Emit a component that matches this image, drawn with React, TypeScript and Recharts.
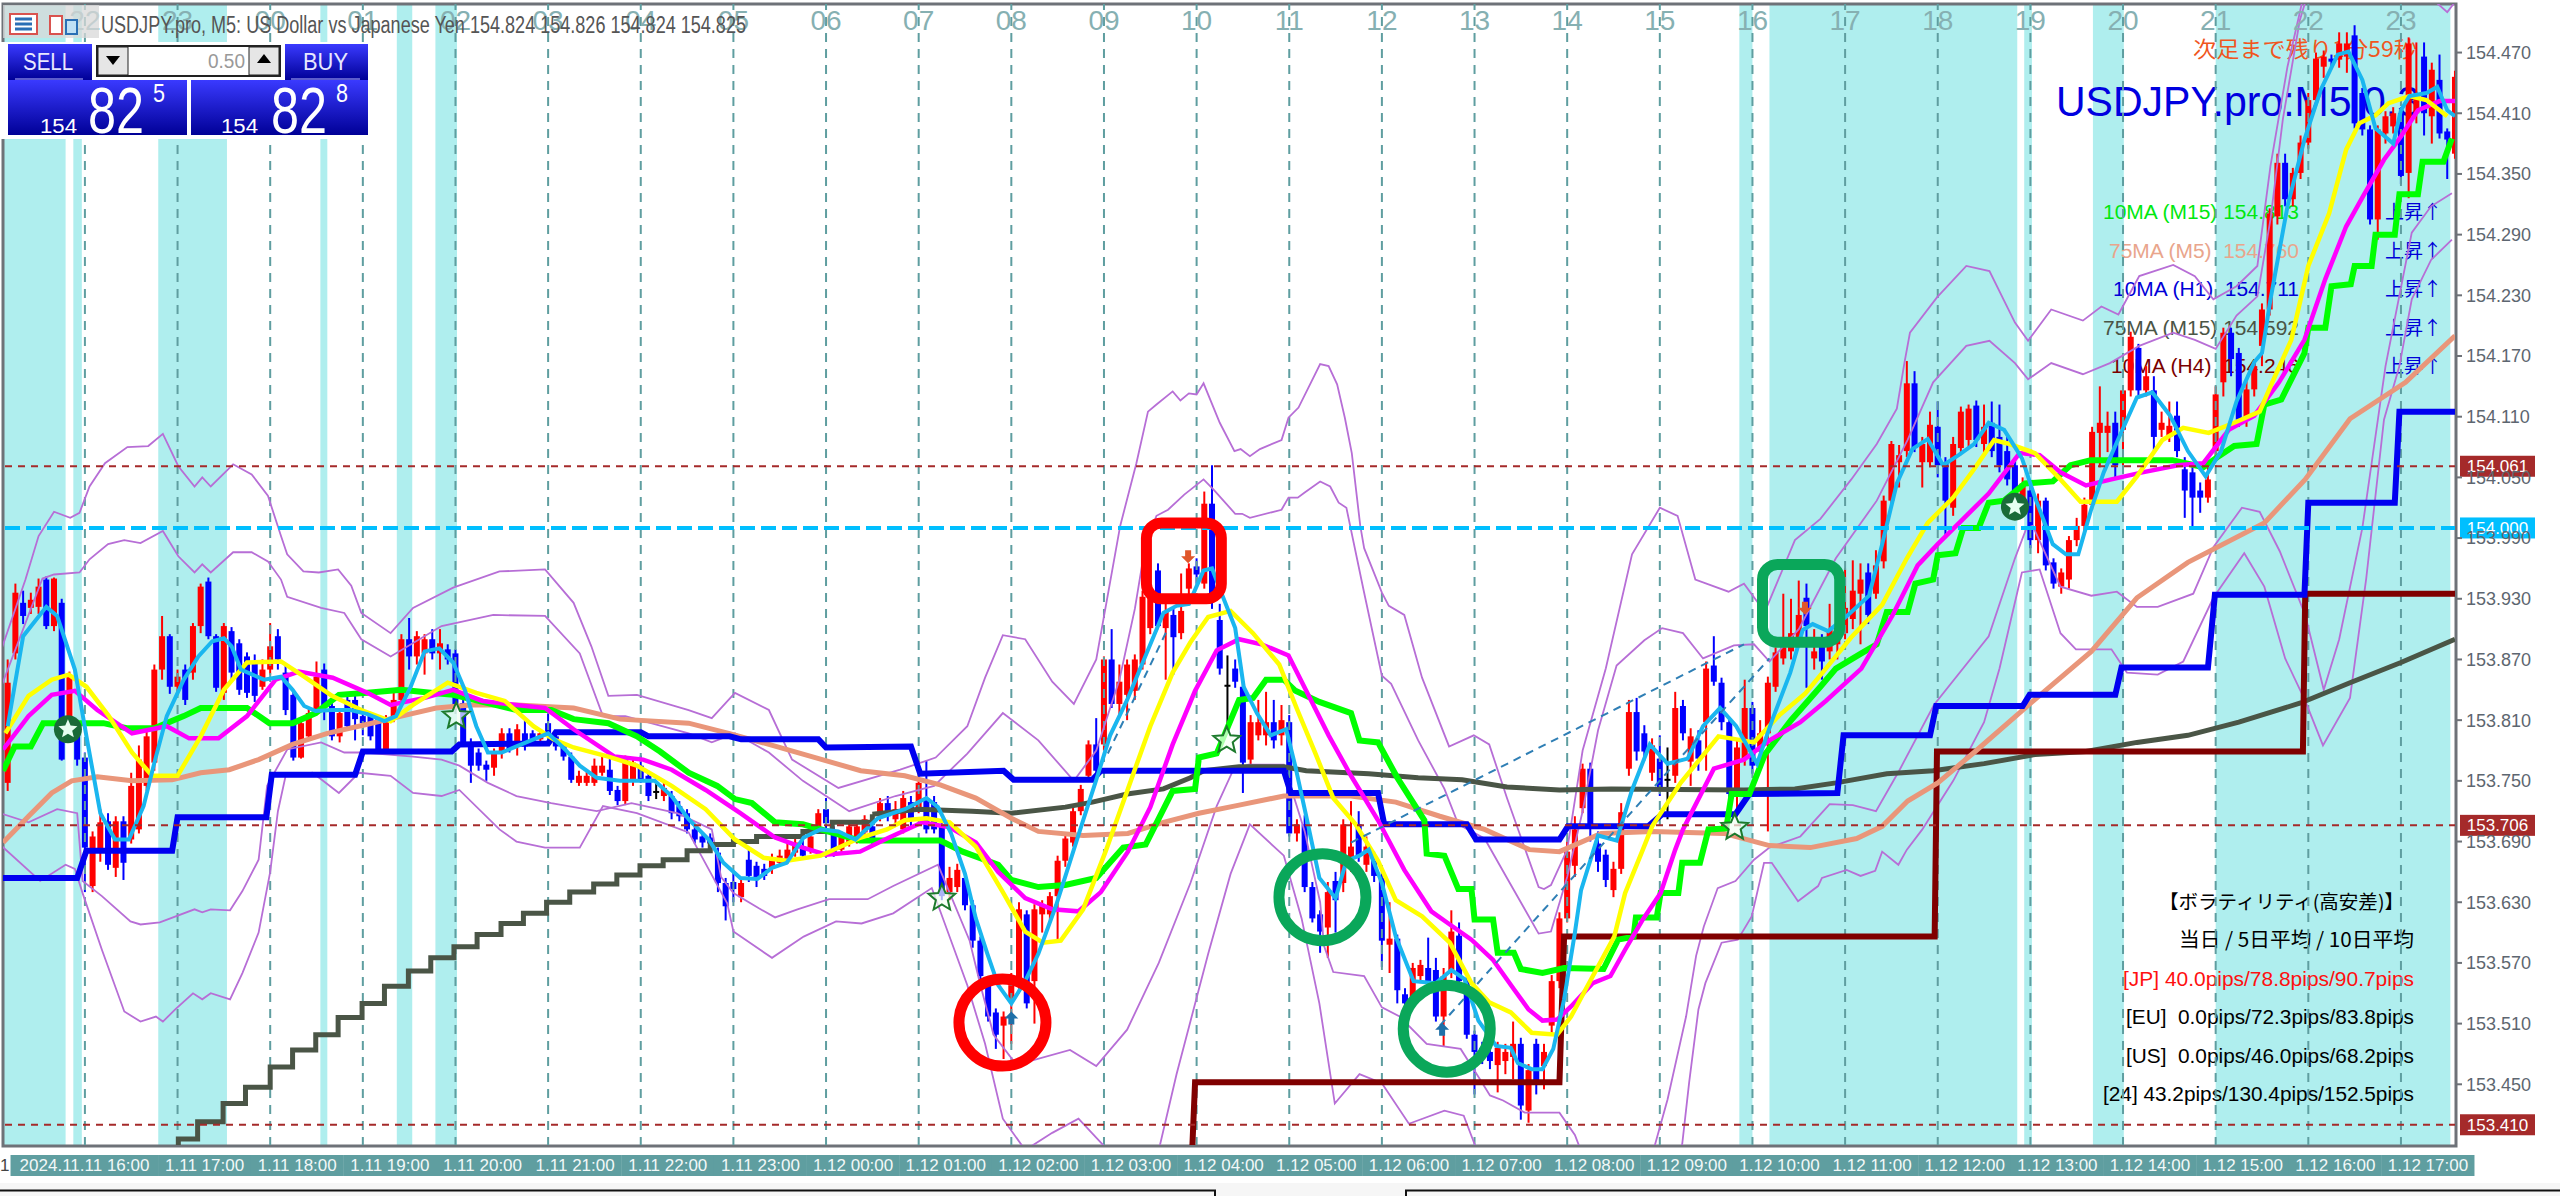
import React from "react"
import {
  ComposedChart,
  Bar,
  Line,
  XAxis,
  YAxis,
  ReferenceArea,
  ReferenceLine,
  ReferenceDot,
} from "recharts"

const FONT = "'Liberation Sans', Arial, sans-serif"
const CJK = "'Noto Sans CJK JP', sans-serif"

// bar numbers: one bar is five minutes, 22:00 of the 11th is bar 11
const BAR_DOMAIN = [0.39, 318.13]
const PRICE_DOMAIN = [153.389, 154.518]

const priceTicks = [
  154.47, 154.41, 154.35, 154.29, 154.23, 154.17, 154.11, 154.05, 153.99, 153.93, 153.87, 153.81,
  153.75, 153.69, 153.63, 153.57, 153.51, 153.45,
]
const hourLabels = [
  "22", "23", "00", "01", "02", "03", "04", "05", "06", "07", "08", "09", "10",
  "11", "12", "13", "14", "15", "16", "17", "18", "19", "20", "21", "22", "23",
]
const hourBars = [11, 23, 35, 47, 59, 71, 83, 95, 107, 119, 131, 143, 155, 167, 179, 191, 203, 215, 227, 239, 251, 263, 275, 287, 299, 311]
const axisTickBars = [16, 32, 48, 64, 80, 96, 112, 128, 144, 160, 176, 192, 208, 224, 240, 256, 272, 288, 304]
const timeLabels = [
  "2024.11.11 16:00", "1.11 17:00", "1.11 18:00", "1.11 19:00", "1.11 20:00", "1.11 21:00", "1.11 22:00",
  "1.11 23:00", "1.12 00:00", "1.12 01:00", "1.12 02:00", "1.12 03:00", "1.12 04:00", "1.12 05:00",
  "1.12 06:00", "1.12 07:00", "1.12 08:00", "1.12 09:00", "1.12 10:00", "1.12 11:00", "1.12 12:00",
  "1.12 13:00", "1.12 14:00", "1.12 15:00", "1.12 16:00", "1.12 17:00",
]
const timeLabelBars = [
  10.95, 26.5, 38.5, 50.5, 62.5, 74.5, 86.5, 98.5, 110.5, 122.5, 134.5, 146.5, 158.5, 170.5, 182.5,
  194.5, 206.5, 218.5, 230.5, 242.5, 254.5, 266.5, 278.5, 290.5, 302.5, 314.5,
]
const sessionBands = [
  [0.39, 8.5], [9.5, 10.6], [20.5, 29.4], [41.5, 42.4], [51.4, 53.4], [56.4, 59.2],
  [225.3, 227], [229.2, 261.3], [262.2, 263.2], [271.1, 275.1], [287, 317.4],
]
const levelLines = [154.061, 153.706, 153.41]

// n, open, high, low, close
const candlesEvening = [
  [1,153.748,153.87,153.74,153.847],[2,153.876,153.945,153.87,153.936],[3,153.926,153.938,153.905,153.913],[4,153.921,153.936,153.915,153.929],
  [5,153.922,153.95,153.915,153.942],[6,153.949,153.952,153.9,153.903],[7,153.903,153.951,153.898,153.95],[8,153.926,153.93,153.77,153.771],
  [9,153.804,153.858,153.795,153.853],[10,153.804,153.81,153.765,153.771],[11,153.773,153.778,153.64,153.684],[12,153.646,153.7,153.64,153.695],
  [13,153.679,153.722,153.67,153.709],[14,153.71,153.718,153.662,153.667],[15,153.664,153.715,153.655,153.71],[16,153.71,153.715,153.652,153.669],
  [17,153.692,153.758,153.688,153.745],[18,153.702,153.785,153.698,153.771],[19,153.745,153.802,153.74,153.794],[20,153.768,153.865,153.76,153.86],
  [21,153.86,153.913,153.85,153.893],[22,153.893,153.895,153.836,153.843],[23,153.843,153.86,153.835,153.853],[24,153.86,153.865,153.825,153.83],
  [25,153.857,153.906,153.85,153.903],[26,153.903,153.945,153.896,153.942],[27,153.947,153.951,153.89,153.893],[28,153.893,153.895,153.838,153.842],
  [29,153.837,153.906,153.83,153.903],[30,153.898,153.902,153.85,153.857],[31,153.886,153.89,153.835,153.84],[32,153.873,153.877,153.832,153.837],
  [33,153.866,153.875,153.828,153.834],[34,153.843,153.87,153.84,153.86],[35,153.86,153.906,153.855,153.883],[36,153.893,153.9,153.86,153.87],
  [37,153.857,153.865,153.815,153.82],[38,153.835,153.84,153.77,153.773],[39,153.773,153.81,153.772,153.807],[40,153.794,153.822,153.79,153.817],
  [41,153.82,153.868,153.815,153.853],[42,153.86,153.866,153.81,153.824],[43,153.824,153.83,153.79,153.794],[44,153.794,153.822,153.788,153.817],
  [45,153.83,153.835,153.8,153.804],[46,153.83,153.835,153.79,153.811],[47,153.814,153.82,153.795,153.807],[48,153.814,153.818,153.79,153.794],
  [49,153.811,153.815,153.778,153.781],[50,153.781,153.815,153.78,153.811],[51,153.811,153.84,153.808,153.83],[52,153.83,153.895,153.825,153.89],
  [53,153.89,153.911,153.86,153.873],[54,153.873,153.898,153.865,153.893],[55,153.876,153.895,153.855,153.89],[56,153.89,153.9,153.87,153.876],
  [57,153.876,153.9,153.86,153.886],[58,153.88,153.885,153.865,153.87],[59,153.876,153.88,153.82,153.824],[60,153.827,153.832,153.785,153.788],
  [61,153.788,153.792,153.748,153.765],[62,153.778,153.782,153.76,153.765],[63,153.766,153.77,153.75,153.761],[64,153.763,153.782,153.755,153.778],
  [65,153.778,153.802,153.772,153.797],[66,153.797,153.802,153.778,153.781],[67,153.784,153.806,153.775,153.801],[68,153.797,153.81,153.78,153.784],
  [69,153.797,153.8,153.785,153.788],[70,153.791,153.8,153.788,153.797],[71,153.807,153.818,153.79,153.794],[72,153.794,153.798,153.78,153.784],
  [73,153.784,153.788,153.77,153.774],[74,153.774,153.778,153.748,153.751],[75,153.748,153.76,153.745,153.755],[76,153.748,153.76,153.745,153.755],
  [77,153.748,153.772,153.745,153.765],[78,153.758,153.775,153.755,153.765],[79,153.761,153.772,153.736,153.74],[80,153.741,153.745,153.726,153.73],
]
const candlesNight = [
  [81,153.73,153.775,153.726,153.771],[82,153.751,153.772,153.745,153.768],[83,153.765,153.775,153.748,153.751],[84,153.755,153.76,153.73,153.735],
  [85,153.74,153.748,153.732,153.74],[86,153.735,153.748,153.73,153.743],[87,153.735,153.74,153.712,153.718],[88,153.725,153.73,153.71,153.715],
  [89,153.718,153.722,153.698,153.702],[90,153.702,153.706,153.688,153.692],[91,153.695,153.698,153.684,153.689],[92,153.694,153.698,153.684,153.688],
  [93,153.679,153.684,153.64,153.649],[94,153.649,153.654,153.612,153.626],[95,153.65,153.66,153.63,153.643],[96,153.635,153.655,153.63,153.649],
  [97,153.672,153.682,153.65,153.656],[98,153.666,153.67,153.645,153.653],[99,153.663,153.668,153.652,153.656],[100,153.663,153.678,153.658,153.672],
  [101,153.669,153.682,153.665,153.676],[102,153.672,153.69,153.668,153.682],[103,153.679,153.695,153.675,153.689],[104,153.685,153.692,153.672,153.676],
  [105,153.682,153.7,153.678,153.695],[106,153.702,153.722,153.698,153.718],[107,153.722,153.733,153.695,153.708],[108,153.699,153.705,153.675,153.679],
  [109,153.682,153.7,153.678,153.695],[110,153.689,153.71,153.685,153.705],[111,153.692,153.71,153.688,153.705],[112,153.699,153.716,153.695,153.712],
  [113,153.705,153.71,153.686,153.689],[114,153.715,153.733,153.71,153.728],[115,153.728,153.735,153.71,153.715],[116,153.712,153.73,153.708,153.722],
  [117,153.702,153.74,153.698,153.733],[118,153.729,153.735,153.705,153.711],[119,153.724,153.77,153.718,153.748],[120,153.733,153.77,153.698,153.702],
  [121,153.729,153.735,153.698,153.702],[122,153.707,153.712,153.632,153.636],[123,153.64,153.665,153.632,153.654],[124,153.645,153.668,153.64,153.662],
  [125,153.654,153.66,153.622,153.627],[126,153.627,153.632,153.585,153.592],[127,153.592,153.596,153.552,153.557],[128,153.548,153.553,153.512,153.517],
  [129,153.521,153.525,153.485,153.499],[130,153.508,153.522,153.475,153.517],[131,153.535,153.56,153.49,153.548],[132,153.548,153.63,153.54,153.623],
  [133,153.618,153.622,153.525,153.53],[134,153.552,153.628,153.51,153.623],[135,153.618,153.632,153.6,153.627],[136,153.618,153.64,153.61,153.636],
  [137,153.636,153.676,153.59,153.671],[138,153.671,153.698,153.665,153.693],[139,153.689,153.725,153.685,153.72],[140,153.72,153.746,153.716,153.742],
  [141,153.755,153.79,153.75,153.786],[142,153.786,153.812,153.755,153.76],[143,153.786,153.873,153.78,153.87],[144,153.87,153.9,153.822,153.826],
  [145,153.826,153.865,153.815,153.848],[146,153.835,153.87,153.81,153.865],[147,153.839,153.875,153.83,153.87],[148,153.865,153.938,153.86,153.932],
  [149,153.901,153.94,153.895,153.936],[150,153.958,153.965,153.9,153.903],[151,153.901,153.925,153.85,153.918],[152,153.914,153.92,153.855,153.892],
  [153,153.896,153.955,153.89,153.918],[154,153.94,153.965,153.93,153.96],[155,153.962,153.97,153.945,153.954],[156,153.945,154.036,153.94,154.024],
  [157,154.024,154.062,153.92,153.927],[158,153.909,153.925,153.855,153.861],[159,153.845,153.874,153.804,153.845],[160,153.861,153.87,153.842,153.848],
]
const candlesMorning = [
  [161,153.843,153.85,153.738,153.768],[162,153.771,153.815,153.762,153.808],[163,153.795,153.83,153.79,153.808],[164,153.795,153.838,153.785,153.808],
  [165,153.808,153.83,153.782,153.79],[166,153.795,153.825,153.785,153.81],[167,153.808,153.815,153.695,153.698],[168,153.698,153.712,153.69,153.707],
  [169,153.707,153.716,153.64,153.645],[170,153.645,153.65,153.61,153.614],[171,153.618,153.622,153.58,153.601],[172,153.605,153.65,153.575,153.64],
  [173,153.651,153.66,153.6,153.632],[174,153.649,153.712,153.64,153.707],[175,153.671,153.73,153.66,153.685],[176,153.707,153.72,153.67,153.676],
  [177,153.667,153.695,153.66,153.685],[178,153.671,153.68,153.65,153.656],[179,153.654,153.66,153.566,153.592],[180,153.588,153.63,153.56,153.594],
  [181,153.594,153.598,153.53,153.543],[182,153.539,153.545,153.52,153.53],[183,153.53,153.57,153.525,153.565],[184,153.557,153.573,153.55,153.568],
  [185,153.565,153.595,153.548,153.552],[186,153.563,153.575,153.512,153.517],[187,153.517,153.565,153.487,153.557],[188,153.561,153.622,153.555,153.601],
  [189,153.597,153.61,153.548,153.552],[190,153.552,153.556,153.495,153.499],[191,153.499,153.503,153.44,153.482],[192,153.486,153.492,153.47,153.477],
  [193,153.482,153.487,153.465,153.473],[194,153.469,153.492,153.442,153.486],[195,153.473,153.49,153.46,153.482],[196,153.477,153.512,153.455,153.49],
  [197,153.49,153.496,153.415,153.429],[198,153.424,153.47,153.412,153.464],[199,153.49,153.495,153.44,153.451],[200,153.468,153.49,153.445,153.482],
  [201,153.508,153.558,153.5,153.552],[202,153.552,153.62,153.545,153.614],[203,153.614,153.69,153.61,153.68],[204,153.666,153.715,153.655,153.702],
  [205,153.723,153.767,153.718,153.762],[206,153.762,153.768,153.69,153.705],[207,153.688,153.7,153.66,153.67],[208,153.677,153.682,153.645,153.652],
  [209,153.642,153.67,153.635,153.663],[210,153.663,153.728,153.658,153.719],[211,153.762,153.83,153.755,153.818],[212,153.818,153.832,153.77,153.779],
  [213,153.797,153.805,153.77,153.779],[214,153.758,153.792,153.75,153.785],[215,153.772,153.795,153.735,153.74],[216,153.752,153.783,153.712,153.752],
  [217,153.755,153.838,153.748,153.822],[218,153.824,153.83,153.79,153.797],[219,153.769,153.802,153.745,153.794],[220,153.79,153.8,153.76,153.772],
  [221,153.808,153.868,153.76,153.861],[222,153.864,153.893,153.844,153.848],[223,153.847,153.852,153.8,153.808],[224,153.808,153.812,153.73,153.737],
  [225,153.737,153.79,153.715,153.783],[226,153.772,153.85,153.765,153.822],[227,153.822,153.828,153.757,153.765],[228,153.779,153.81,153.77,153.797],
  [229,153.797,153.853,153.7,153.847],[230,153.843,153.882,153.838,153.877],[231,153.871,153.935,153.865,153.882],[232,153.878,153.93,153.87,153.896],
  [233,153.892,153.948,153.885,153.914],[234,153.931,153.945,153.842,153.903],[235,153.871,153.9,153.86,153.878],[236,153.885,153.895,153.85,153.868],
  [237,153.878,153.925,153.87,153.899],[238,153.885,153.915,153.87,153.903],[239,153.896,153.96,153.89,153.921],[240,153.91,153.968,153.9,153.938],
]
const candlesAfternoon = [
  [241,153.935,153.965,153.885,153.949],[242,153.956,153.965,153.905,153.914],[243,153.935,153.978,153.93,153.963],[244,153.967,154.032,153.96,154.027],
  [245,154.027,154.086,154.022,154.083],[246,154.065,154.082,154.04,154.072],[247,154.076,154.165,154.07,154.143],[248,154.143,154.155,154.075,154.079],
  [249,154.065,154.09,154.04,154.083],[250,154.065,154.115,154.06,154.102],[251,154.1,154.125,154.05,154.062],[252,154.065,154.07,153.99,154.027],
  [253,154.02,154.09,154.012,154.083],[254,154.079,154.12,154.072,154.115],[255,154.087,154.122,154.08,154.118],[256,154.121,154.126,154.08,154.087],
  [257,154.083,154.122,154.075,154.1],[258,154.104,154.125,154.07,154.076],[259,154.09,154.122,154.055,154.062],[260,154.076,154.09,154.042,154.048],
  [261,154.062,154.07,154.025,154.03],[262,154.02,154.05,154.012,154.044],[263,154.037,154.042,153.98,153.988],[264,153.988,154.034,153.975,154.027],
  [265,154.027,154.03,153.958,153.963],[266,153.966,153.97,153.94,153.945],[267,153.942,153.96,153.935,153.956],[268,153.949,153.992,153.94,153.988],
  [269,153.988,154.01,153.982,154.002],[270,154.002,154.03,153.995,154.023],[271,154.023,154.1,154.018,154.095],[272,154.094,154.14,154.06,154.104],
  [273,154.094,154.115,154.075,154.101],[274,154.104,154.115,154.05,154.062],[275,154.097,154.14,154.06,154.136],[276,154.136,154.194,154.13,154.189],
  [277,154.178,154.182,154.13,154.136],[278,154.136,154.16,154.13,154.15],[279,154.136,154.15,154.075,154.09],[280,154.097,154.115,154.09,154.104],
  [281,154.09,154.125,154.085,154.101],[282,154.111,154.125,154.07,154.076],[283,154.058,154.07,154.01,154.037],[284,154.055,154.06,153.998,154.03],
  [285,154.037,154.045,154.015,154.03],[286,154.03,154.06,154.025,154.048],[287,154.076,154.14,154.07,154.132],[288,154.144,154.198,154.13,154.193],
  [289,154.193,154.198,154.15,154.167],[290,154.173,154.178,154.1,154.107],[291,154.107,154.145,154.1,154.137],[292,154.137,154.165,154.13,154.16],
  [293,154.18,154.222,154.16,154.216],[294,154.216,154.316,154.21,154.311],[295,154.308,154.37,154.3,154.361],[296,154.361,154.37,154.318,154.325],
  [297,154.325,154.356,154.318,154.351],[298,154.351,154.388,154.345,154.381],[299,154.381,154.43,154.375,154.423],[300,154.423,154.47,154.418,154.464],
  [301,154.456,154.472,154.445,154.466],[302,154.464,154.468,154.455,154.461],[303,154.463,154.49,154.455,154.479],[304,154.466,154.49,154.45,154.479],
  [305,154.487,154.497,154.395,154.4],[306,154.43,154.435,154.388,154.394],[307,154.394,154.398,154.3,154.305],[308,154.305,154.398,154.285,154.394],
  [309,154.39,154.412,154.38,154.407],[310,154.397,154.416,154.39,154.41],[311,154.41,154.416,154.34,154.348],[312,154.351,154.485,154.326,154.479],
  [313,154.41,154.48,154.4,154.427],[314,154.466,154.48,154.388,154.41],[315,154.407,154.46,154.38,154.453],[316,154.443,154.468,154.385,154.39],
  [317,154.392,154.395,154.345,154.384],[318,154.37,154.452,154.365,154.446],
]

// each line below: [bar, price]
const bbOuterTop = [
  [0,153.876],[3.3,153.949],[5,153.992],[7,154.016],[9.1,154.01],[10.3,154.015],[11.6,154.041],[13.6,154.064],[16.5,154.08],[19.2,154.081],[21.1,154.093],[23.1,154.061],[25.2,154.041],[26.2,154.05],[27.3,154.041],[30.2,154.063],[32.6,154.053],[34.7,154.032],[36.4,153.992],[37.2,153.974],[39.3,153.957],[41.3,153.956],[43.8,153.959],[45.5,153.943],[46.8,153.916],[50.6,153.896],[53.5,153.921],[58.7,153.941],[64.7,153.957],[70.6,153.959],[74.3,153.926],[76.6,153.883],[78.8,153.834],[82.5,153.835],[89.2,153.82],[92.2,153.812],[95.2,153.837],[99.6,153.82],[102.6,153.771],[108.6,153.743],[116.6,153.761],[121.2,153.773],[125.3,153.804],[127.6,153.852],[129.9,153.894],[132.8,153.89],[136.3,153.848],[139.1,153.826],[142,153.87],[145.1,154.002],[147.2,154.064],[148.7,154.115],[149.8,154.122],[151.9,154.135],[152.9,154.126],[154,154.133],[155,154.132],[155.9,154.143],[158,154.104],[159.9,154.076],[160.7,154.078],[161.9,154.071],[163.2,154.078],[166,154.087],[166.9,154.109],[168.2,154.119],[171,154.162],[172.1,154.16],[173.2,154.142],[174.2,154.109],[175.1,154.074],[176.2,154.002],[176.7,153.98],[179,153.936],[179.9,153.923],[181.9,153.914],[184.2,153.852],[187.7,153.784],[190.9,153.795],[192.9,153.786],[195.2,153.733],[199.3,153.645],[200,153.643],[200.9,153.647],[203,153.682],[205,153.78],[208,153.861],[211.4,153.974],[215,154.02],[217.3,154.012],[219.6,153.949],[223.9,153.937],[225.9,153.945],[228.6,153.917],[232.5,153.988],[235.8,154.009],[239.8,154.048],[243.1,154.083],[245.7,154.118],[246.7,154.164],[247.4,154.193],[250.9,154.228],[254.7,154.259],[257.7,154.254],[261,154.203],[262.7,154.185],[265.7,154.216],[269.8,154.205],[272.2,154.219],[274.4,154.211],[277.1,154.249],[281.5,154.26],[284.3,154.249],[286.7,154.226],[289.7,154.239],[292.4,154.259],[294.1,154.358],[296.3,154.456],[298.5,154.53],[314,154.53],[317,154.51],[318,154.52],
]
const bbInnerTop = [
  [0,153.84],[3,153.9],[5.5,153.95],[7,153.954],[10.3,153.956],[11.6,153.969],[14,153.984],[16.1,153.988],[18.2,153.985],[21.1,153.997],[23.1,153.972],[25.2,153.956],[26.2,153.964],[27.3,153.956],[30.2,153.976],[32.6,153.976],[34.7,153.967],[36.4,153.949],[37.2,153.932],[41.6,153.921],[44.6,153.916],[46.8,153.89],[50.6,153.873],[57.2,153.903],[63.9,153.914],[70.6,153.913],[75.1,153.876],[78.1,153.814],[81,153.814],[89.2,153.797],[92.2,153.788],[95.2,153.797],[99.6,153.778],[104,153.75],[110,153.72],[116,153.735],[121,153.745],[125.3,153.777],[129.9,153.817],[134.5,153.79],[139.1,153.75],[142,153.78],[145,153.85],[147,153.92],[148.4,153.985],[149.8,154.012],[151.3,154.018],[153.4,154.033],[155.9,154.048],[157.2,154.038],[160,154.014],[160.9,154.014],[161.9,154.01],[166,154.018],[166.9,154.03],[168.1,154.03],[169,154.035],[171,154.046],[172.3,154.041],[173.4,154.025],[174.4,154.02],[176.7,153.936],[179,153.854],[180.2,153.846],[183.7,153.79],[187.1,153.742],[188.9,153.707],[192.3,153.693],[195.2,153.654],[199.3,153.599],[200.9,153.601],[203,153.655],[205,153.72],[207,153.8],[209.4,153.864],[213,153.889],[215.3,153.901],[218,153.896],[220.6,153.871],[224.6,153.884],[227.2,153.885],[229.2,153.868],[233,153.9],[237.8,153.97],[243.1,154.027],[247.1,154.087],[250.4,154.144],[254.7,154.18],[257.7,154.185],[261,154.163],[262.7,154.147],[265.7,154.163],[269.8,154.152],[273.3,154.163],[277.1,154.18],[281.5,154.193],[284.3,154.186],[287,154.177],[289.7,154.21],[292.4,154.229],[294.1,154.305],[295.7,154.404],[297.9,154.502],[299,154.53],
]
const bbInnerBottom = [
  [0,153.718],[3.7,153.709],[7.4,153.722],[10,153.718],[10.7,153.651],[13.2,153.636],[16.9,153.611],[18.2,153.608],[20.7,153.61],[25.2,153.623],[26.2,153.62],[27.3,153.623],[29.8,153.622],[31.4,153.641],[33.5,153.672],[34.6,153.745],[37.2,153.781],[41.6,153.788],[44.6,153.778],[47.2,153.778],[53.5,153.774],[57.2,153.771],[59.5,153.765],[63.2,153.748],[66.9,153.735],[71.4,153.728],[77.3,153.72],[81.8,153.728],[87.7,153.718],[92.2,153.702],[93.4,153.655],[95,153.639],[98.3,153.624],[100.4,153.615],[103.3,153.623],[107.4,153.633],[112.4,153.633],[115.7,153.646],[121.5,153.667],[125.6,153.592],[127,153.548],[128.7,153.499],[131.3,153.473],[133.4,153.473],[138.6,153.484],[142,153.468],[146,153.504],[150.1,153.57],[154.2,153.649],[157.6,153.725],[159.7,153.76],[161.7,153.766],[166.3,153.766],[169,153.7],[171,153.63],[171.5,153.587],[172.7,153.561],[176.7,153.557],[179,153.526],[181.3,153.517],[184.8,153.49],[189.2,153.485],[191.7,153.455],[193,153.439],[194.7,153.434],[197.5,153.422],[202,153.422],[204,153.4],[205,153.38],[214,153.38],[214.4,153.391],[216,153.435],[218.4,153.517],[219.7,153.577],[220.7,153.606],[222.5,153.644],[224.8,153.651],[227.2,153.672],[229.2,153.684],[233.2,153.695],[237,153.727],[240,153.726],[243,153.72],[246,153.76],[250.5,153.825],[257.6,153.893],[261,153.97],[262.5,154],[263.3,154.002],[266.9,153.942],[270.9,153.933],[274.2,153.937],[276.8,153.922],[279.5,153.922],[284.1,153.935],[286.7,153.981],[290.4,154.02],[292.7,154.016],[295.3,153.977],[298.6,153.914],[301,153.84],[303,153.89],[306,154],[309,154.16],[312.4,154.292],[314.9,154.318],[317.6,154.331],
]
const bbOuterBottom = [
  [0,153.687],[5.2,153.651],[8.5,153.667],[9.7,153.663],[10.7,153.639],[13.2,153.583],[16.1,153.522],[18.2,153.512],[20.2,153.517],[21.1,153.512],[22.7,153.524],[25,153.54],[26.2,153.534],[27.3,153.54],[29.8,153.534],[31.4,153.56],[33.5,153.6],[35,153.66],[36,153.72],[37,153.755],[40.5,153.758],[43.9,153.738],[46.5,153.758],[50.6,153.755],[53.5,153.738],[57.2,153.735],[59.5,153.741],[64.7,153.702],[66.9,153.69],[70.6,153.684],[75.1,153.684],[78.1,153.725],[82.5,153.718],[89.2,153.699],[94.2,153.629],[95,153.601],[100,153.575],[104.1,153.596],[108.3,153.611],[111.6,153.609],[115.7,153.619],[120.7,153.644],[125.3,153.548],[127.6,153.49],[129.9,153.416],[132.8,153.385],[136.3,153.402],[139.7,153.416],[143.5,153.385],[150.1,153.385],[152.4,153.46],[156.5,153.579],[159.4,153.658],[161.9,153.707],[166.3,153.676],[168.6,153.614],[170.9,153.53],[172.9,153.431],[176.1,153.46],[179,153.451],[182.5,153.411],[187.1,153.424],[189.6,153.419],[191,153.391],[191.5,153.38],[217.5,153.38],[217.9,153.391],[218.8,153.452],[220,153.524],[220.9,153.55],[223,153.59],[225.1,153.593],[226.9,153.616],[228.5,153.669],[229.5,153.669],[232.9,153.631],[235.5,153.646],[236,153.654],[239.2,153.662],[241,153.656],[242.9,153.661],[243.8,153.68],[245.9,153.667],[247,153.682],[249,153.702],[253,153.75],[257,153.808],[259,153.861],[261.9,153.956],[264.2,153.959],[266.9,153.896],[268.9,153.88],[273.5,153.88],[275.5,153.857],[279.5,153.855],[282.8,153.868],[286.7,153.931],[290.7,153.975],[293.3,153.942],[296,153.871],[298.6,153.829],[300.9,153.785],[304.4,153.832],[306.5,153.95],[308.8,154.107],[310.8,154.16],[312.4,154.226],[314.9,154.265],[317.6,154.285],
]
const maSalmon = [
  [0.4,153.689],[3.7,153.715],[6.7,153.738],[9.3,153.75],[12.6,153.754],[17.1,153.75],[22.3,153.751],[26,153.758],[29.7,153.761],[33.5,153.771],[37.9,153.786],[42.4,153.797],[47.6,153.806],[52,153.814],[56.5,153.822],[61,153.825],[66.9,153.825],[74.3,153.822],[80.3,153.811],[89.2,153.807],[94.4,153.797],[99.6,153.786],[105.6,153.773],[111.5,153.76],[117.2,153.755],[121.8,153.746],[126.4,153.733],[131,153.713],[134.5,153.7],[140.3,153.696],[146.1,153.698],[150.7,153.709],[155.3,153.718],[160.5,153.726],[166.3,153.735],[175,153.735],[180.8,153.729],[186.5,153.715],[192.3,153.702],[198.1,153.682],[202,153.68],[207.4,153.698],[214,153.7],[223.3,153.698],[229.2,153.686],[234.5,153.684],[240.5,153.693],[243.8,153.705],[247.1,153.73],[251,153.748],[255.7,153.778],[262.3,153.822],[270.9,153.878],[276.8,153.931],[283.4,153.966],[293.3,154.005],[298.6,154.048],[304.4,154.108],[311.6,154.144],[318,154.19],
]
const maGreyStairs = [
  [22.9,153.38],[23.1,153.396],[25.6,153.413],[28.9,153.431],[31.8,153.447],[35,153.467],[37.9,153.484],[40.9,153.499],[43.8,153.516],[46.9,153.53],[49.8,153.547],[52.9,153.562],[55.8,153.575],[58.8,153.586],[61.8,153.598],[64.9,153.609],[67.8,153.619],[70.8,153.63],[73.8,153.64],[76.9,153.648],[79.9,153.657],[82.9,153.666],[85.9,153.672],[89,153.681],[92,153.687],[95,153.69],[98,153.695],[104,153.7],[107.8,153.709],[113,153.717],
]
const maGreyLate = [
  [113,153.717],[119,153.722],[125.9,153.72],[131,153.718],[138,153.724],[141.5,153.729],[146,153.737],[150.7,153.742],[154.2,153.753],[155.9,153.76],[160.5,153.764],[166.3,153.764],[169.2,153.76],[177.3,153.757],[183.7,153.753],[189.4,153.751],[195.2,153.744],[202,153.741],[208.7,153.742],[225.9,153.741],[232.5,153.742],[237.8,153.748],[244.4,153.757],[250.4,153.76],[257,153.767],[263.6,153.776],[270.2,153.779],[276.8,153.788],[283.4,153.795],[290,153.808],[298,153.827],[304.4,153.847],[311,153.867],[318,153.89],
]
const maDarkRed = [
  [154.4,153.38],[154.8,153.452],[202,153.452],[202.6,153.596],[250.6,153.596],[250.9,153.779],[298.3,153.779],[298.6,153.935],[318,153.935],
]
const maBlue = [
  [0,153.654],[10,153.654],[11.2,153.681],[22.3,153.681],[23,153.714],[34.5,153.714],[35.2,153.756],[46,153.756],[47,153.779],[58.5,153.779],[59.5,153.786],[71,153.787],[72,153.798],[83,153.798],[84,153.794],[94.5,153.794],[96,153.791],[106,153.791],[107,153.783],[118,153.784],[119.2,153.757],[130,153.76],[131.3,153.751],[141.5,153.751],[142.6,153.76],[166.3,153.76],[167.2,153.738],[178.5,153.738],[179.3,153.707],[190,153.707],[191.2,153.692],[202,153.692],[203.1,153.705],[213.5,153.705],[215.3,153.717],[224.8,153.717],[226.6,153.737],[238,153.738],[238.8,153.795],[250,153.795],[250.8,153.824],[262,153.824],[262.9,153.835],[274,153.835],[274.8,153.862],[286,153.862],[286.9,153.934],[298.5,153.934],[299,154.025],[310.2,154.025],[310.8,154.115],[318,154.115],
]
const maGreen = [
  [0.4,153.76],[1.9,153.784],[4,153.784],[5.6,153.807],[13.4,153.807],[16.4,153.802],[20,153.802],[23.8,153.814],[26,153.822],[32,153.822],[34.9,153.807],[37.9,153.807],[40.9,153.817],[43.9,153.835],[47.6,153.837],[52,153.84],[55.8,153.837],[58.7,153.835],[63.2,153.827],[66.9,153.82],[71.4,153.82],[74.3,153.811],[78.8,153.807],[82.5,153.794],[85.5,153.779],[89.2,153.758],[92.9,153.745],[95.2,153.732],[97.4,153.728],[100.4,153.709],[104,153.707],[111.4,153.691],[121.8,153.691],[124.7,153.68],[129.3,153.667],[131,153.652],[134.5,153.645],[138,153.647],[142,153.654],[145.5,153.684],[148.4,153.687],[151.9,153.74],[154.8,153.742],[155.3,153.773],[157.6,153.777],[160.5,153.83],[162.3,153.832],[164,153.85],[166.3,153.85],[167.8,153.839],[170.9,153.828],[175,153.817],[176.1,153.79],[178.5,153.788],[181,153.753],[184.5,153.711],[184.8,153.678],[187.1,153.676],[188.9,153.643],[190.6,153.643],[191,153.613],[193.4,153.613],[194,153.58],[196.1,153.58],[197,153.564],[199.8,153.56],[202.6,153.565],[207.7,153.564],[209.6,153.593],[211.6,153.596],[211.9,153.615],[214.6,153.615],[215.1,153.639],[217.4,153.639],[217.9,153.669],[220.2,153.669],[221.3,153.702],[223.6,153.703],[224.3,153.737],[226.6,153.737],[228.6,153.776],[232,153.81],[235.8,153.843],[237.8,153.861],[241.1,153.876],[243.1,153.885],[244.4,153.917],[247.1,153.917],[248.1,153.945],[250.4,153.949],[251,153.973],[253.3,153.975],[254.3,154],[256.3,154],[257.6,154.025],[259.6,154.027],[262.3,154.044],[265.9,154.046],[268.2,154.062],[270.8,154.067],[281.4,154.067],[285.4,154.06],[287.4,154.071],[289.4,154.081],[292.3,154.083],[293.3,154.122],[295.5,154.127],[298.5,154.173],[299,154.198],[301.2,154.198],[302,154.239],[304.5,154.241],[305,154.259],[307.2,154.259],[307.7,154.29],[310.2,154.29],[310.8,154.33],[313.2,154.33],[313.8,154.362],[316.5,154.362],[317.6,154.385],
]
const maMagenta = [
  [0.4,153.781],[3.7,153.814],[6.7,153.835],[9.7,153.839],[12.6,153.82],[17.1,153.797],[21.6,153.804],[24.5,153.792],[28.3,153.792],[32,153.814],[35.7,153.85],[38.7,153.858],[43.1,153.852],[47.6,153.837],[50.6,153.825],[55,153.832],[58.7,153.84],[62.5,153.829],[66.9,153.825],[70.6,153.822],[74.3,153.801],[79.6,153.774],[83.3,153.771],[87,153.761],[91.4,153.741],[95.9,153.718],[100.4,153.694],[104,153.684],[107,153.677],[111.4,153.68],[114.9,153.693],[119.5,153.709],[123,153.704],[126.4,153.689],[129.3,153.66],[132.8,153.634],[136.3,153.623],[139.7,153.621],[142.6,153.64],[146.1,153.68],[149,153.724],[151.9,153.786],[154.8,153.839],[157.6,153.879],[160.5,153.89],[163.4,153.885],[166.9,153.874],[169.2,153.839],[172.1,153.795],[175,153.755],[178.5,153.711],[181.9,153.662],[185.4,153.621],[187.8,153.608],[190.6,153.593],[193.4,153.573],[196.1,153.544],[198,153.524],[199.8,153.513],[201.7,153.514],[203.5,153.527],[206.3,153.55],[208.6,153.557],[210.5,153.583],[212.8,153.613],[215.1,153.639],[217,153.682],[218,153.702],[222,153.762],[225.9,153.771],[229.2,153.79],[233.2,153.808],[236.5,153.829],[241.1,153.861],[245.1,153.913],[248.4,153.963],[251,153.984],[254.3,154.009],[257.6,154.034],[261.6,154.074],[264.2,154.072],[266.9,154.055],[270.2,154.042],[273.5,154.048],[277.5,154.055],[282.1,154.062],[285.4,154.064],[288.7,154.097],[292,154.111],[295.2,154.144],[298.5,154.186],[301.2,154.246],[303.9,154.298],[306.1,154.328],[308.8,154.364],[311,154.387],[313.2,154.413],[316,154.422],[318,154.422],
]
const maYellow = [
  [0.7,153.797],[3.7,153.834],[6.7,153.85],[8.9,153.855],[11.2,153.843],[14.1,153.814],[17.1,153.778],[19.7,153.755],[23,153.755],[26,153.794],[29,153.84],[32,153.867],[36.4,153.868],[39.4,153.853],[43,153.834],[46.8,153.82],[50.6,153.809],[53.5,153.825],[58,153.847],[61.7,153.837],[65.4,153.829],[69.1,153.804],[71.7,153.791],[74.3,153.783],[78.8,153.774],[82.5,153.765],[87,153.745],[91.4,153.722],[95.2,153.692],[98.9,153.674],[101.9,153.671],[106.3,153.676],[111.5,153.694],[114.9,153.702],[117.2,153.711],[120,153.713],[123,153.709],[126.4,153.685],[129.9,153.64],[132.8,153.601],[135.1,153.59],[137.4,153.592],[140.3,153.623],[143.2,153.68],[146.1,153.742],[149,153.804],[151.9,153.857],[154.2,153.887],[156.5,153.912],[159.4,153.918],[162.3,153.896],[165.7,153.865],[168,153.821],[170.4,153.777],[172.7,153.733],[175.6,153.707],[178.5,153.671],[180.8,153.632],[184.2,153.616],[187.8,153.59],[190.6,153.55],[192.9,153.531],[195.7,153.521],[198.4,153.501],[201.7,153.499],[203.5,153.517],[205.4,153.544],[209.1,153.596],[210.5,153.639],[212.8,153.682],[214,153.705],[217.7,153.748],[222.6,153.794],[227.2,153.788],[230.5,153.815],[233.8,153.836],[236.5,153.861],[239.8,153.892],[243.8,153.924],[247,153.97],[249.7,154.005],[253,154.03],[255.7,154.058],[258.3,154.087],[260.3,154.083],[263.6,154.074],[266.9,154.048],[269.5,154.026],[274.2,154.026],[276.8,154.051],[280.1,154.087],[282.8,154.099],[286.1,154.094],[289.4,154.104],[292.7,154.115],[294.1,154.14],[296.8,154.186],[299,154.259],[301.7,154.311],[303.9,154.374],[305.6,154.4],[307.7,154.408],[309.4,154.42],[312.1,154.427],[314.3,154.423],[317,154.407],
]
const maCyan = [
  [1,153.804],[3,153.893],[6,153.922],[7.4,153.913],[9.7,153.86],[11.2,153.794],[13,153.718],[14.9,153.692],[16.7,153.692],[18.6,153.725],[20,153.768],[21.6,153.814],[23.8,153.85],[25.7,153.873],[27.5,153.888],[29,153.891],[30,153.883],[31.2,153.86],[32.7,153.855],[34.2,153.85],[36.4,153.853],[37.9,153.84],[39.4,153.824],[40.9,153.819],[43,153.82],[45.4,153.82],[47.6,153.816],[49.8,153.809],[51.3,153.814],[53.2,153.843],[55,153.878],[56.9,153.881],[58.7,153.867],[60.2,153.84],[61.7,153.804],[63.2,153.778],[65,153.778],[66.9,153.784],[69.1,153.791],[71,153.797],[73.2,153.781],[75.1,153.765],[77.3,153.753],[80.3,153.75],[84.8,153.75],[87,153.735],[89.2,153.712],[91.8,153.692],[93.7,153.669],[95.9,153.654],[98.1,153.653],[100,153.664],[101.9,153.669],[104.1,153.694],[106.3,153.702],[108.6,153.7],[110.8,153.692],[113.7,153.713],[117.2,153.722],[119,153.729],[120,153.733],[121.5,153.724],[123.2,153.698],[125,153.658],[126.4,153.614],[127.9,153.579],[129.3,153.548],[131,153.53],[132.8,153.552],[134.5,153.579],[136.8,153.627],[140.3,153.711],[142,153.751],[143.8,153.795],[146,153.83],[148.4,153.874],[150.7,153.916],[152.4,153.923],[154,153.925],[155.9,153.958],[157,153.96],[158.2,153.936],[160,153.901],[161.1,153.843],[162.8,153.817],[164.6,153.795],[166.6,153.801],[167.8,153.764],[169.2,153.715],[170.9,153.654],[173,153.634],[174.4,153.671],[176.1,153.676],[177.3,153.682],[179,153.649],[180.8,153.596],[183.1,153.552],[186,153.55],[188,153.563],[189.7,153.554],[191.5,153.513],[193.8,153.488],[195.7,153.486],[196.6,153.471],[198.4,153.465],[199.8,153.465],[201.2,153.485],[202.6,153.534],[204,153.6],[204.8,153.642],[207,153.696],[209.4,153.691],[211.4,153.741],[213.7,153.786],[216,153.767],[218.6,153.772],[220.6,153.804],[222.8,153.822],[224.9,153.804],[227.6,153.767],[229.6,153.811],[231.9,153.857],[233.5,153.899],[234.8,153.905],[236.8,153.898],[239.1,153.912],[242.1,153.933],[243.8,153.984],[245.7,154.044],[247.7,154.078],[249.7,154.088],[251.7,154.062],[253.7,154.072],[255.7,154.083],[257.6,154.104],[259.6,154.097],[261.9,154.069],[263.6,154.03],[265.9,153.984],[267.6,153.974],[269.2,153.974],[270.9,154.019],[272.5,154.055],[274.5,154.09],[276.8,154.129],[278.8,154.134],[281.1,154.111],[283.4,154.076],[285.7,154.051],[287.7,154.076],[289.7,154.125],[292,154.164],[293,154.173],[294.1,154.226],[296.3,154.318],[298.5,154.384],[300.6,154.433],[302.8,154.468],[304.2,154.471],[306,154.443],[307.7,154.395],[310,154.38],[311,154.413],[312.1,154.427],[314.3,154.43],[315.7,154.436],[317,154.413],[318,154.407],
]
const trendLines = [
  [[175,153.689],[225.9,153.885]],
  [[186.5,153.508],[229.2,153.871]],
  [[143.5,153.777],[151.3,153.901]],
]
const hollowStars = [[59.1,153.814],[122,153.634],[158.9,153.79],[224.7,153.704]]
const darkStars = [[8.8,153.801],[261,154.021]]
const upArrows = [[131,153.515],[186.8,153.504]]
const downArrows = [[153.9,153.972],[233.8,153.921]]

const maTexts = [
  ["10MA (M15) 154.813", "#00e810"],
  ["75MA (M5)  154.760", "#e9a58c"],
  ["10MA (H1)  154.711", "#0000d8"],
  ["75MA (M15) 154.592", "#4a5546"],
  ["10MA (H4)  154.246", "#7a0000"],
]
const maTextWidths = [196, 190, 186, 196, 188]
const volatilityRows = [
  ["当日 / 5日平均 / 10日平均", "#000000"],
  ["[JP] 40.0pips/78.8pips/90.7pips", "#ff1010"],
  ["[EU]  0.0pips/72.3pips/83.8pips", "#000000"],
  ["[US]  0.0pips/46.0pips/68.2pips", "#000000"],
  ["[24] 43.2pips/130.4pips/152.5pips", "#000000"],
]
const volatilityWidths = [235, 291, 288, 288, 311]

const bars = [...candlesEvening, ...candlesNight, ...candlesMorning, ...candlesAfternoon].map(
  ([n, open, high, low, close]) => ({ n, open, high, low, close })
)
const pts = (rows: number[][]) => rows.map(([n, v]) => ({ n, v }))

function Candle(props: any) {
  const { x, y, width, height, payload } = props
  const { open, high, low, close } = payload
  const perPrice = height / (high - low || 1)
  const top = y + (high - Math.max(open, close)) * perPrice
  const bottom = y + (high - Math.min(open, close)) * perPrice
  const cx = x + width / 2
  const color = open === close ? "#000000" : close > open ? "#ff0000" : "#0000ff"
  return (
    <g>
      <line x1={cx} x2={cx} y1={y} y2={y + height} stroke={color} strokeWidth={2} />
      <rect x={cx - 3} y={top} width={6} height={Math.max(bottom - top, 2)} fill={color} />
    </g>
  )
}

const starPath = (cx: number, cy: number, r: number) => {
  let d = ""
  for (let i = 0; i < 10; i++) {
    const rad = i % 2 ? r * 0.45 : r
    const a = -Math.PI / 2 + (i * Math.PI) / 5
    d += `${i ? "L" : "M"}${cx + rad * Math.cos(a)} ${cy + rad * Math.sin(a)}`
  }
  return d + "Z"
}

function HollowStar({ cx, cy }: any) {
  return <path d={starPath(cx, cy, 14)} fill="#f4fff4" fillOpacity={0.7} stroke="#1c7a2c" strokeWidth={2} />
}

function DarkStar({ cx, cy }: any) {
  return (
    <g>
      <circle cx={cx} cy={cy} r={14} fill="#1a6b38" />
      <path d={starPath(cx, cy, 10)} fill="#e6fff0" />
    </g>
  )
}

function Arrow({ cx, cy, dir, color }: any) {
  const s = dir
  return (
    <path
      d={`M${cx} ${cy - 7 * s}L${cx + 7} ${cy}L${cx + 3} ${cy}L${cx + 3} ${cy + 6 * s}L${cx - 3} ${cy + 6 * s}L${cx - 3} ${cy}L${cx - 7} ${cy}Z`}
      fill={color}
    />
  )
}

function TimeTick({ x, index }: any) {
  const w = index === 0 ? 148 : 93
  return (
    <g>
      <rect x={x - w / 2} y={1155} width={w} height={21} fill="#5f9ea0" />
      <text x={x} y={1171} textAnchor="middle" fontSize={17} fontFamily={FONT} fill="#f2f8f8">
        {timeLabels[index]}
      </text>
    </g>
  )
}

function PriceTag({ viewBox, text, fill }: any) {
  return (
    <g>
      <rect x={2460} y={viewBox.y - 10.5} width={75} height={21} fill={fill} />
      <text x={2497.5} y={viewBox.y + 6} textAnchor="middle" fontSize={17} fontFamily={FONT} fill="#ffffff">
        {text}
      </text>
    </g>
  )
}

const RoundBox = (color: string) => (p: any) => (
  <rect x={p.x} y={p.y} width={p.width} height={p.height} rx={15} fill="none" stroke={color} strokeWidth={11} />
)

function PriceBox({ x, w, digits, last, digitsX, lastX, bigX }: any) {
  return (
    <g>
      <rect x={x} y={80} width={w} height={55} fill="url(#panelBlue)" />
      <text x={bigX} y={133} fontSize={20} fontFamily={FONT} fill="#fff" textLength={37} lengthAdjust="spacingAndGlyphs">154</text>
      <text x={digitsX} y={133} fontSize={64} fontFamily={FONT} fill="#fff" textLength={56} lengthAdjust="spacingAndGlyphs">{digits}</text>
      <text x={lastX} y={102} fontSize={26} fontFamily={FONT} fill="#fff" textLength={12} lengthAdjust="spacingAndGlyphs">{last}</text>
    </g>
  )
}

// sits on top of the chart: title row, trade panel, window edges
function Overlay() {
  return (
    <svg width={2560} height={1196} style={{ position: "absolute", left: 0, top: 0, pointerEvents: "none" }}>
      <defs>
        <linearGradient id="panelBlue" x1="0" y1="0" x2="0" y2="1">
          <stop offset="0" stopColor="#3a3aff" />
          <stop offset="1" stopColor="#000096" />
        </linearGradient>
      </defs>
      <rect x={3} y={5} width={96} height={33} fill="#d8d8d8" fillOpacity={0.75} />
      <rect x={10} y={14} width={27} height={20} fill="#fff" stroke="#d9534f" strokeWidth={2} />
      <path d="M15 19h17M15 24h17M15 29h17" stroke="#2a6fb5" strokeWidth={3} />
      <rect x={50} y={16} width={12} height={18} fill="#fff" stroke="#d9534f" strokeWidth={2} />
      <rect x={66} y={20} width={11} height={14} fill="#bfe0f5" stroke="#2a6fb5" strokeWidth={2} />
      <text x={101} y={33} fontSize={23} fontFamily={FONT} fill="#555" textLength={645} lengthAdjust="spacingAndGlyphs">
        USDJPY.pro, M5:  US Dollar vs Japanese Yen  154.824 154.826 154.824 154.825
      </text>
      <rect x={0} y={42} width={372} height={97} fill="#ffffff" />
      <rect x={8} y={44} width={84} height={36} fill="url(#panelBlue)" />
      <rect x={285} y={44} width={83} height={36} fill="url(#panelBlue)" />
      <line x1={15} x2={83} y1={79} y2={79} stroke="#b8b8ff" strokeWidth={1} />
      <line x1={291} x2={360} y1={79} y2={79} stroke="#b8b8ff" strokeWidth={1} />
      <text x={23} y={70} fontSize={23} fontFamily={FONT} fill="#e8e8ff" textLength={50} lengthAdjust="spacingAndGlyphs">SELL</text>
      <text x={303} y={70} fontSize={23} fontFamily={FONT} fill="#e8e8ff" textLength={45} lengthAdjust="spacingAndGlyphs">BUY</text>
      <rect x={97} y={46} width={183} height={30} fill="#fff" stroke="#222" strokeWidth={2} />
      <rect x={98} y={47} width={30} height={28} fill="#e6e6e6" stroke="#222" strokeWidth={1} />
      <rect x={249} y={47} width={30} height={28} fill="#e6e6e6" stroke="#222" strokeWidth={1} />
      <path d="M106 56h14l-7 9Z" fill="#000" />
      <path d="M257 63h14l-7-9Z" fill="#000" />
      <text x={245} y={68} textAnchor="end" fontSize={20} fontFamily={FONT} fill="#999" textLength={37} lengthAdjust="spacingAndGlyphs">0.50</text>
      <PriceBox x={8} w={179} digits="82" last="5" bigX={40} digitsX={88} lastX={153} />
      <PriceBox x={191} w={177} digits="82" last="8" bigX={221} digitsX={271} lastX={336} />
      <rect x={0} y={1183} width={2560} height={13} fill="#f6f6f6" />
      <path d="M0 1190.5H1215V1196" fill="none" stroke="#111" strokeWidth={2} />
      <path d="M1406 1196V1190.5H2560" fill="none" stroke="#111" strokeWidth={2} />
      <text x={0} y={1171} fontSize={17} fontFamily={FONT} fill="#444">1</text>
    </svg>
  )
}

// sits between the bands and the candles, so the candles cross the texts
function ChartTexts() {
  return (
    <svg width={2560} height={1196} style={{ position: "absolute", left: 0, top: 0 }}>
      <g fontFamily={FONT}>
        <text x={2417} y={57} textAnchor="end" fontSize={22} fontFamily={CJK} fill="#f0561e" textLength={224} lengthAdjust="spacingAndGlyphs">
          次足まで残り1分59秒
        </text>
        <text x={2056} y={116} fontSize={42} fill="#0000e0" textLength={364} lengthAdjust="spacingAndGlyphs">
          USDJPY.pro:M5 0.3
        </text>
        {maTexts.map(([t, c], i) => (
          <text
            key={t}
            x={2299}
            y={219 + i * 38.5}
            textAnchor="end"
            fontSize={20}
            fill={c}
            textLength={maTextWidths[i]}
            lengthAdjust="spacingAndGlyphs"
            style={{ whiteSpace: "pre" }}
          >
            {t}
          </text>
        ))}
        {maTexts.map(([t], i) => (
          <text key={t + "up"} x={2442} y={219 + i * 38.5} textAnchor="end" fontSize={19} fontFamily={CJK} fill="#0000d8">
            上昇↑
          </text>
        ))}
        <text x={2404} y={909} textAnchor="end" fontSize={19} fontFamily={CJK} fill="#000" textLength={245} lengthAdjust="spacingAndGlyphs">
          【ボラティリティ(高安差)】
        </text>
        {volatilityRows.map(([t, c], i) => (
          <text
            key={t}
            x={2414}
            y={947 + i * 38.5}
            textAnchor="end"
            fontSize={20}
            fontFamily={i === 0 ? CJK : FONT}
            fill={c}
            textLength={volatilityWidths[i]}
            lengthAdjust="spacingAndGlyphs"
            style={{ whiteSpace: "pre" }}
          >
            {t}
          </text>
        ))}
      </g>
    </svg>
  )
}

const lineBase = { dataKey: "v", dot: false, isAnimationActive: false, activeDot: false, legendType: "none" as const }
const layer = { position: "absolute" as const, left: 0, top: 0 }
const plotMargin = { top: 4, right: 104, bottom: 50, left: 3 }

export default function App() {
  return (
    <div style={{ ...layer, width: 2560, height: 1196, background: "#fff", overflow: "hidden" }}>
      <div style={layer}>
        <ComposedChart width={2560} height={1196} data={bars} margin={plotMargin}>
          <XAxis dataKey="n" type="number" domain={BAR_DOMAIN} allowDataOverflow hide />
          <YAxis type="number" domain={PRICE_DOMAIN} allowDataOverflow hide />
          {sessionBands.map(([a, b]) => (
            <ReferenceArea key={a} x1={a} x2={b} fill="#afeeee" fillOpacity={1} stroke="none" ifOverflow="hidden" />
          ))}
        </ComposedChart>
      </div>
      <ChartTexts />
      <div style={layer}>
        <ComposedChart
          width={2560}
          height={1196}
          data={bars}
          margin={{ top: 4, right: 0, bottom: 0, left: 3 }}
        >
          <XAxis
            xAxisId={0}
            dataKey="n"
            type="number"
            domain={BAR_DOMAIN}
            allowDataOverflow
            ticks={axisTickBars}
            tick={false}
            tickSize={6}
            height={8}
            stroke="#6e7278"
            strokeWidth={2}
          />
          <XAxis
            xAxisId="time"
            dataKey="n"
            type="number"
            domain={BAR_DOMAIN}
            allowDataOverflow
            ticks={timeLabelBars}
            interval={0}
            tick={<TimeTick />}
            tickLine={false}
            axisLine={false}
            height={42}
          />
          <YAxis
            orientation="right"
            type="number"
            domain={PRICE_DOMAIN}
            allowDataOverflow
            ticks={priceTicks}
            interval={0}
            width={104}
            tickSize={6}
            tickMargin={4}
            tickFormatter={(v: number) => v.toFixed(3)}
            tick={{ fontSize: 18, fontFamily: FONT, fill: "#5d6670" }}
            stroke="#6e7278"
            strokeWidth={2}
          />

          <ReferenceArea
            x1={BAR_DOMAIN[0]}
            x2={BAR_DOMAIN[1]}
            y1={PRICE_DOMAIN[0]}
            y2={PRICE_DOMAIN[1]}
            fill="none"
            stroke="#6e7278"
            strokeWidth={3}
            ifOverflow="visible"
          />
          {hourBars.map((n, i) => (
            <ReferenceLine
              key={i}
              x={n}
              stroke="#5f9ea0"
              strokeWidth={2}
              strokeDasharray="9 7"
              label={{ value: hourLabels[i], position: "insideTop", offset: 6, fontSize: 28, fontFamily: FONT, fill: "#86b0b2" }}
            />
          ))}

          <Bar dataKey={(d: any) => [d.low, d.high]} barSize={6} shape={<Candle />} isAnimationActive={false} legendType="none" />

          <Line {...lineBase} data={pts(bbOuterTop)} stroke="#b76ed6" strokeWidth={1.8} />
          <Line {...lineBase} data={pts(bbInnerTop)} stroke="#b76ed6" strokeWidth={1.8} />
          <Line {...lineBase} data={pts(bbInnerBottom)} stroke="#b76ed6" strokeWidth={1.8} />
          <Line {...lineBase} data={pts(bbOuterBottom)} stroke="#b76ed6" strokeWidth={1.8} />
          <Line {...lineBase} data={pts(maGreyStairs)} type="stepAfter" stroke="#4a5546" strokeWidth={5} />
          <Line {...lineBase} data={pts(maGreyLate)} stroke="#4a5546" strokeWidth={5} />
          <Line {...lineBase} data={pts(maDarkRed)} stroke="#800000" strokeWidth={6} />
          <Line {...lineBase} data={pts(maSalmon)} stroke="#e9967a" strokeWidth={5} />
          <Line {...lineBase} data={pts(maBlue)} stroke="#0000f0" strokeWidth={6} />
          <Line {...lineBase} data={pts(maGreen)} stroke="#00ff00" strokeWidth={6} />
          <Line {...lineBase} data={pts(maMagenta)} stroke="#ff00ff" strokeWidth={4.5} />
          <Line {...lineBase} data={pts(maYellow)} stroke="#ffff00" strokeWidth={4.5} />
          <Line {...lineBase} data={pts(maCyan)} stroke="#1ab6ef" strokeWidth={4} />
          {trendLines.map((t, i) => (
            <Line key={i} {...lineBase} data={pts(t)} stroke="#2f7fb5" strokeWidth={2} strokeDasharray="8 6" />
          ))}
          <Line {...lineBase} data={pts(hollowStars)} stroke="none" dot={(p: any) => <HollowStar key={p.index} cx={p.cx} cy={p.cy} />} />
          <Line {...lineBase} data={pts(darkStars)} stroke="none" dot={(p: any) => <DarkStar key={p.index} cx={p.cx} cy={p.cy} />} />
          <Line {...lineBase} data={pts(upArrows)} stroke="none" dot={(p: any) => <Arrow key={p.index} cx={p.cx} cy={p.cy} dir={1} color="#1f70a8" />} />
          <Line {...lineBase} data={pts(downArrows)} stroke="none" dot={(p: any) => <Arrow key={p.index} cx={p.cx} cy={p.cy} dir={-1} color="#e0562a" />} />

          {levelLines.map((p) => (
            <ReferenceLine
              key={p}
              y={p}
              stroke="#a52a2a"
              strokeWidth={2}
              strokeDasharray="7 6"
              label={<PriceTag text={p.toFixed(3)} fill="#a52a2a" />}
            />
          ))}
          <ReferenceLine y={154} stroke="#00bfff" strokeWidth={4} strokeDasharray="15 6" label={<PriceTag text="154.000" fill="#00bfff" />} />
        </ComposedChart>
      </div>
      {/* hand drawn marks stay above the candles */}
      <div style={layer}>
        <ComposedChart width={2560} height={1196} data={bars} margin={plotMargin}>
          <XAxis dataKey="n" type="number" domain={BAR_DOMAIN} allowDataOverflow hide />
          <YAxis type="number" domain={PRICE_DOMAIN} allowDataOverflow hide />
          <ReferenceDot x={129.85} y={153.511} r={43.5} fill="none" stroke="#ff0000" strokeWidth={11} />
          <ReferenceDot x={171.3} y={153.635} r={43.5} fill="none" stroke="#0aa75a" strokeWidth={11} />
          <ReferenceDot x={187.4} y={153.505} r={43.5} fill="none" stroke="#0aa75a" strokeWidth={11} />
          <ReferenceArea x1={148.5} x2={158.2} y1={153.93} y2={154.005} shape={RoundBox("#ff0000")} />
          <ReferenceArea x1={228.3} x2={238.3} y1={153.887} y2={153.964} shape={RoundBox("#0aa75a")} />
        </ComposedChart>
      </div>
      <Overlay />
    </div>
  )
}
